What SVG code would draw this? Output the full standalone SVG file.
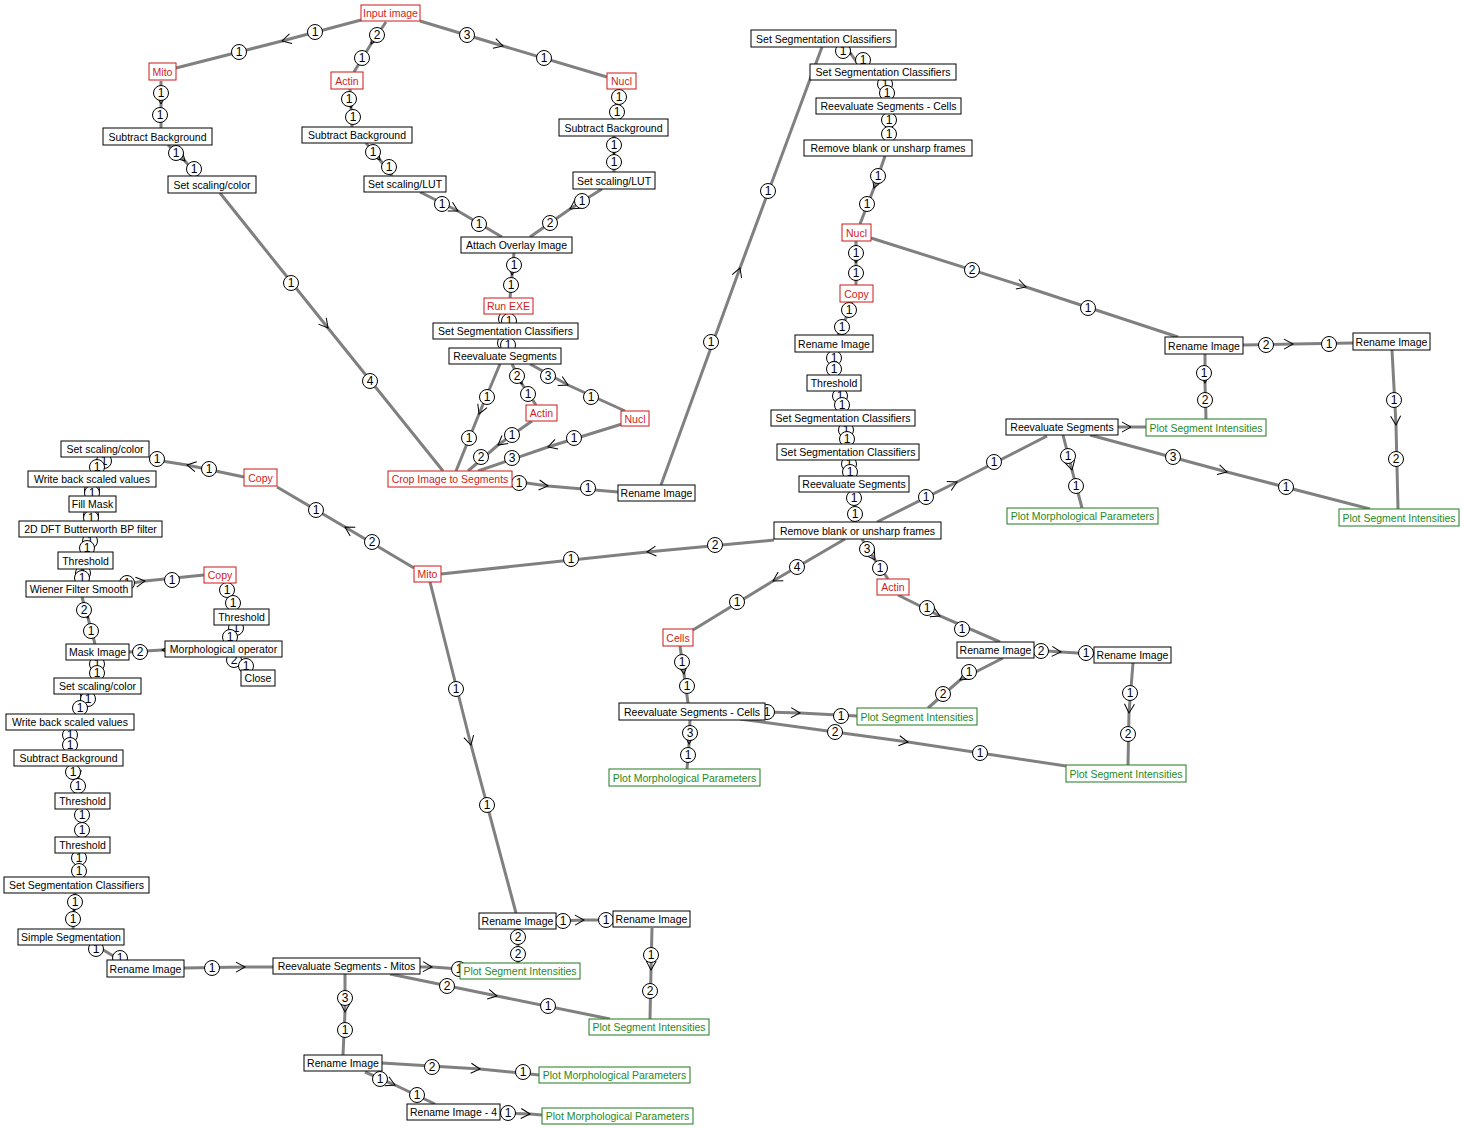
<svg xmlns="http://www.w3.org/2000/svg" width="1464" height="1129" viewBox="0 0 1464 1129">
<defs>
<marker id="a" viewBox="-11 -7 13 14" markerWidth="13" markerHeight="14" refX="0" refY="0" orient="auto" markerUnits="userSpaceOnUse"><path d="M-9,-5 L0,0 L-9,5" fill="none" stroke="#000" stroke-width="1"/></marker>
<style>
.e{fill:none;stroke:#808080;stroke-width:3;marker-mid:url(#a)}
.s{fill:none;stroke:#808080;stroke-width:3}
.p circle{fill:#fff;stroke:#000;stroke-width:1}
.p text{font-family:"Liberation Sans",Arial,sans-serif;font-size:12px;text-anchor:middle;fill:#000}
.n rect{fill:#fff;stroke:#000;stroke-width:1}
.n text{font-family:"Liberation Sans",Arial,sans-serif;font-size:10.5px;text-anchor:middle;fill:#000}
.r rect{stroke:#cc1818}.r text{fill:#d01c1c}
.g rect{stroke:#1f7a1f}.g text{fill:#1f8a1f}
</style>
</defs>
<rect width="1464" height="1129" fill="#fff"/>
<g id="connectors">
<path class="e" d="M361,20 L282,41 L176,68"/>
<path class="e" d="M386,22 L371,44 L354,72"/>
<path class="e" d="M420,21 L503,46 L607,77"/>
<path class="e" d="M161,81 L161,104 L161,128"/>
<path class="e" d="M168,145 L185,161 L198,176"/>
<path class="e" d="M350,89 L351,108 L352,127"/>
<path class="e" d="M366,143 L380,160 L392,176"/>
<path class="e" d="M619,89 L618,105 L617,119"/>
<path class="e" d="M614,136 L614,154 L614,172"/>
<path class="e" d="M420,192 L458,211 L502,237"/>
<path class="e" d="M602,189 L570,209 L530,237"/>
<path class="e" d="M514,253 L512,275 L510,298"/>
<path class="s" d="M508,314 L508,323"/>
<path class="s" d="M506,339 L506,348"/>
<path class="e" d="M500,364 L479,414 L456,471"/>
<path class="e" d="M512,364 L522,384 L536,405"/>
<path class="e" d="M530,364 L568,385 L625,411"/>
<path class="e" d="M532,421 L498,445 L468,471"/>
<path class="e" d="M622,424 L548,447 L478,471"/>
<path class="e" d="M220,193 L328,328 L443,471"/>
<path class="e" d="M512,481 L548,486 L618,492"/>
<path class="e" d="M661,485 L740,268 L822,47"/>
<path class="e" d="M843,47 L851,54 L858,64"/>
<path class="s" d="M886,80 L887,98"/>
<path class="e" d="M888,114 L889,127 L889,140"/>
<path class="e" d="M885,156 L874,188 L860,224"/>
<path class="e" d="M856,241 L856,263 L856,285"/>
<path class="e" d="M871,238 L1026,287 L1178,337"/>
<path class="e" d="M852,302 L847,316 L838,335"/>
<path class="s" d="M834,352 L834,375"/>
<path class="s" d="M838,391 L843,410"/>
<path class="s" d="M848,427 L848,444"/>
<path class="s" d="M851,461 L852,476"/>
<path class="s" d="M855,492 L855,522"/>
<path class="e" d="M877,522 L957,482 L1047,436"/>
<path class="e" d="M774,540 L647,552 L441,574"/>
<path class="e" d="M862,539 L875,560 L888,579"/>
<path class="e" d="M845,539 L773,581 L693,630"/>
<path class="e" d="M1118,427 L1131,427 L1146,427"/>
<path class="e" d="M1063,435 L1072,470 L1082,508"/>
<path class="e" d="M1090,435 L1227,472 L1370,509"/>
<path class="e" d="M1205,354 L1205,383 L1206,419"/>
<path class="e" d="M1243,345 L1293,344 L1353,343"/>
<path class="e" d="M1392,350 L1396,425 L1398,509"/>
<path class="e" d="M898,595 L940,616 L1000,642"/>
<path class="e" d="M1034,650 L1061,652 L1094,654"/>
<path class="e" d="M1003,658 L960,680 L928,708"/>
<path class="e" d="M1133,663 L1129,713 L1128,765"/>
<path class="e" d="M680,646 L684,674 L688,703"/>
<path class="e" d="M765,712 L800,713 L857,716"/>
<path class="e" d="M740,719 L908,742 L1066,766"/>
<path class="e" d="M690,719 L689,744 L687,769"/>
<path class="e" d="M414,568 L345,527 L277,487"/>
<path class="e" d="M244,477 L187,465 L149,459"/>
<path class="e" d="M430,582 L471,745 L516,913"/>
<path class="e" d="M556,921 L584,920 L613,920"/>
<path class="s" d="M518,929 L518,963"/>
<path class="e" d="M652,928 L651,970 L650,1019"/>
<path class="e" d="M420,967 L432,967 L460,969"/>
<path class="e" d="M390,974 L497,996 L610,1019"/>
<path class="e" d="M345,974 L345,1012 L343,1055"/>
<path class="e" d="M184,968 L245,967 L273,967"/>
<path class="e" d="M382,1063 L480,1069 L539,1075"/>
<path class="e" d="M365,1072 L395,1085 L435,1104"/>
<path class="e" d="M500,1113 L530,1114 L542,1115"/>
<path class="s" d="M104,457 L97,471"/>
<path class="s" d="M92,487 L92,496"/>
<path class="s" d="M92,512 L91,521"/>
<path class="s" d="M90,537 L87,552"/>
<path class="s" d="M83,569 L82,581"/>
<path class="e" d="M132,583 L145,581 L204,575"/>
<path class="e" d="M82,597 L88,618 L95,644"/>
<path class="e" d="M227,583 L230,596 L235,609"/>
<path class="s" d="M235,625 L230,641"/>
<path class="s" d="M234,657 L246,670"/>
<path class="e" d="M165,650 L162,650 L129,652"/>
<path class="s" d="M97,660 L97,678"/>
<path class="e" d="M85,694 L82,703 L78,714"/>
<path class="s" d="M70,730 L70,750"/>
<path class="e" d="M75,766 L78,780 L80,793"/>
<path class="s" d="M82,809 L82,837"/>
<path class="s" d="M80,853 L78,877"/>
<path class="e" d="M75,893 L74,911 L73,929"/>
<path class="s" d="M95,945 L120,960"/>
</g>
<g id="ports" class="p">
<circle cx="315" cy="32" r="7.5"/><text x="315" y="36">1</text>
<circle cx="239" cy="52" r="7.5"/><text x="239" y="56">1</text>
<circle cx="377" cy="35" r="7.5"/><text x="377" y="39">2</text>
<circle cx="362" cy="58" r="7.5"/><text x="362" y="62">1</text>
<circle cx="467" cy="35" r="7.5"/><text x="467" y="39">3</text>
<circle cx="544" cy="58" r="7.5"/><text x="544" y="62">1</text>
<circle cx="161" cy="93" r="7.5"/><text x="161" y="97">1</text>
<circle cx="160" cy="115" r="7.5"/><text x="160" y="119">1</text>
<circle cx="176" cy="153" r="7.5"/><text x="176" y="157">1</text>
<circle cx="194" cy="169" r="7.5"/><text x="194" y="173">1</text>
<circle cx="349" cy="99" r="7.5"/><text x="349" y="103">1</text>
<circle cx="353" cy="117" r="7.5"/><text x="353" y="121">1</text>
<circle cx="373" cy="152" r="7.5"/><text x="373" y="156">1</text>
<circle cx="389" cy="167" r="7.5"/><text x="389" y="171">1</text>
<circle cx="619" cy="97" r="7.5"/><text x="619" y="101">1</text>
<circle cx="617" cy="112" r="7.5"/><text x="617" y="116">1</text>
<circle cx="614" cy="145" r="7.5"/><text x="614" y="149">1</text>
<circle cx="614" cy="162" r="7.5"/><text x="614" y="166">1</text>
<circle cx="442" cy="204" r="7.5"/><text x="442" y="208">1</text>
<circle cx="479" cy="224" r="7.5"/><text x="479" y="228">1</text>
<circle cx="582" cy="201" r="7.5"/><text x="582" y="205">1</text>
<circle cx="550" cy="223" r="7.5"/><text x="550" y="227">2</text>
<circle cx="514" cy="265" r="7.5"/><text x="514" y="269">1</text>
<circle cx="511" cy="285" r="7.5"/><text x="511" y="289">1</text>
<circle cx="506" cy="319" r="7.5"/><text x="506" y="323">1</text>
<circle cx="509" cy="321" r="7.5"/><text x="509" y="325">1</text>
<circle cx="505" cy="343" r="7.5"/><text x="505" y="347">1</text>
<circle cx="508" cy="345" r="7.5"/><text x="508" y="349">1</text>
<circle cx="487" cy="397" r="7.5"/><text x="487" y="401">1</text>
<circle cx="469" cy="438" r="7.5"/><text x="469" y="442">1</text>
<circle cx="517" cy="376" r="7.5"/><text x="517" y="380">2</text>
<circle cx="528" cy="394" r="7.5"/><text x="528" y="398">1</text>
<circle cx="548" cy="376" r="7.5"/><text x="548" y="380">3</text>
<circle cx="591" cy="397" r="7.5"/><text x="591" y="401">1</text>
<circle cx="512" cy="435" r="7.5"/><text x="512" y="439">1</text>
<circle cx="481" cy="457" r="7.5"/><text x="481" y="461">2</text>
<circle cx="574" cy="438" r="7.5"/><text x="574" y="442">1</text>
<circle cx="512" cy="458" r="7.5"/><text x="512" y="462">3</text>
<circle cx="291" cy="283" r="7.5"/><text x="291" y="287">1</text>
<circle cx="370" cy="381" r="7.5"/><text x="370" y="385">4</text>
<circle cx="519" cy="483" r="7.5"/><text x="519" y="487">1</text>
<circle cx="588" cy="488" r="7.5"/><text x="588" y="492">1</text>
<circle cx="711" cy="342" r="7.5"/><text x="711" y="346">1</text>
<circle cx="768" cy="191" r="7.5"/><text x="768" y="195">1</text>
<circle cx="843" cy="51" r="7.5"/><text x="843" y="55">1</text>
<circle cx="863" cy="60" r="7.5"/><text x="863" y="64">1</text>
<circle cx="885" cy="84" r="7.5"/><text x="885" y="88">1</text>
<circle cx="887" cy="93" r="7.5"/><text x="887" y="97">1</text>
<circle cx="889" cy="120" r="7.5"/><text x="889" y="124">1</text>
<circle cx="889" cy="134" r="7.5"/><text x="889" y="138">1</text>
<circle cx="878" cy="176" r="7.5"/><text x="878" y="180">1</text>
<circle cx="867" cy="204" r="7.5"/><text x="867" y="208">1</text>
<circle cx="856" cy="253" r="7.5"/><text x="856" y="257">1</text>
<circle cx="856" cy="273" r="7.5"/><text x="856" y="277">1</text>
<circle cx="972" cy="270" r="7.5"/><text x="972" y="274">2</text>
<circle cx="1088" cy="308" r="7.5"/><text x="1088" y="312">1</text>
<circle cx="849" cy="310" r="7.5"/><text x="849" y="314">1</text>
<circle cx="842" cy="327" r="7.5"/><text x="842" y="331">1</text>
<circle cx="834" cy="358" r="7.5"/><text x="834" y="362">1</text>
<circle cx="834" cy="369" r="7.5"/><text x="834" y="373">1</text>
<circle cx="840" cy="396" r="7.5"/><text x="840" y="400">1</text>
<circle cx="842" cy="405" r="7.5"/><text x="842" y="409">1</text>
<circle cx="846" cy="430" r="7.5"/><text x="846" y="434">1</text>
<circle cx="847" cy="439" r="7.5"/><text x="847" y="443">1</text>
<circle cx="849" cy="464" r="7.5"/><text x="849" y="468">1</text>
<circle cx="850" cy="472" r="7.5"/><text x="850" y="476">1</text>
<circle cx="854" cy="498" r="7.5"/><text x="854" y="502">1</text>
<circle cx="855" cy="514" r="7.5"/><text x="855" y="518">1</text>
<circle cx="926" cy="497" r="7.5"/><text x="926" y="501">1</text>
<circle cx="994" cy="462" r="7.5"/><text x="994" y="466">1</text>
<circle cx="715" cy="545" r="7.5"/><text x="715" y="549">2</text>
<circle cx="571" cy="559" r="7.5"/><text x="571" y="563">1</text>
<circle cx="867" cy="549" r="7.5"/><text x="867" y="553">3</text>
<circle cx="880" cy="568" r="7.5"/><text x="880" y="572">1</text>
<circle cx="797" cy="567" r="7.5"/><text x="797" y="571">4</text>
<circle cx="737" cy="602" r="7.5"/><text x="737" y="606">1</text>
<circle cx="1068" cy="456" r="7.5"/><text x="1068" y="460">1</text>
<circle cx="1076" cy="486" r="7.5"/><text x="1076" y="490">1</text>
<circle cx="1173" cy="457" r="7.5"/><text x="1173" y="461">3</text>
<circle cx="1286" cy="487" r="7.5"/><text x="1286" y="491">1</text>
<circle cx="1204" cy="373" r="7.5"/><text x="1204" y="377">1</text>
<circle cx="1205" cy="400" r="7.5"/><text x="1205" y="404">2</text>
<circle cx="1266" cy="345" r="7.5"/><text x="1266" y="349">2</text>
<circle cx="1329" cy="344" r="7.5"/><text x="1329" y="348">1</text>
<circle cx="1394" cy="400" r="7.5"/><text x="1394" y="404">1</text>
<circle cx="1396" cy="459" r="7.5"/><text x="1396" y="463">2</text>
<circle cx="927" cy="608" r="7.5"/><text x="927" y="612">1</text>
<circle cx="962" cy="629" r="7.5"/><text x="962" y="633">1</text>
<circle cx="1041" cy="651" r="7.5"/><text x="1041" y="655">2</text>
<circle cx="1086" cy="653" r="7.5"/><text x="1086" y="657">1</text>
<circle cx="969" cy="672" r="7.5"/><text x="969" y="676">1</text>
<circle cx="943" cy="694" r="7.5"/><text x="943" y="698">2</text>
<circle cx="1130" cy="693" r="7.5"/><text x="1130" y="697">1</text>
<circle cx="1128" cy="734" r="7.5"/><text x="1128" y="738">2</text>
<circle cx="682" cy="662" r="7.5"/><text x="682" y="666">1</text>
<circle cx="687" cy="686" r="7.5"/><text x="687" y="690">1</text>
<circle cx="767" cy="712" r="7.5"/><text x="767" y="716">1</text>
<circle cx="841" cy="716" r="7.5"/><text x="841" y="720">1</text>
<circle cx="835" cy="732" r="7.5"/><text x="835" y="736">2</text>
<circle cx="980" cy="753" r="7.5"/><text x="980" y="757">1</text>
<circle cx="690" cy="733" r="7.5"/><text x="690" y="737">3</text>
<circle cx="688" cy="755" r="7.5"/><text x="688" y="759">1</text>
<circle cx="372" cy="542" r="7.5"/><text x="372" y="546">2</text>
<circle cx="316" cy="510" r="7.5"/><text x="316" y="514">1</text>
<circle cx="209" cy="469" r="7.5"/><text x="209" y="473">1</text>
<circle cx="157" cy="459" r="7.5"/><text x="157" y="463">1</text>
<circle cx="456" cy="689" r="7.5"/><text x="456" y="693">1</text>
<circle cx="487" cy="805" r="7.5"/><text x="487" y="809">1</text>
<circle cx="563" cy="921" r="7.5"/><text x="563" y="925">1</text>
<circle cx="606" cy="920" r="7.5"/><text x="606" y="924">1</text>
<circle cx="518" cy="937" r="7.5"/><text x="518" y="941">2</text>
<circle cx="518" cy="954" r="7.5"/><text x="518" y="958">2</text>
<circle cx="651" cy="955" r="7.5"/><text x="651" y="959">1</text>
<circle cx="650" cy="991" r="7.5"/><text x="650" y="995">2</text>
<circle cx="459" cy="969" r="7.5"/><text x="459" y="973">1</text>
<circle cx="447" cy="986" r="7.5"/><text x="447" y="990">2</text>
<circle cx="548" cy="1006" r="7.5"/><text x="548" y="1010">1</text>
<circle cx="345" cy="998" r="7.5"/><text x="345" y="1002">3</text>
<circle cx="345" cy="1030" r="7.5"/><text x="345" y="1034">1</text>
<circle cx="212" cy="968" r="7.5"/><text x="212" y="972">1</text>
<circle cx="432" cy="1067" r="7.5"/><text x="432" y="1071">2</text>
<circle cx="523" cy="1072" r="7.5"/><text x="523" y="1076">1</text>
<circle cx="380" cy="1079" r="7.5"/><text x="380" y="1083">1</text>
<circle cx="417" cy="1095" r="7.5"/><text x="417" y="1099">1</text>
<circle cx="508" cy="1113" r="7.5"/><text x="508" y="1117">1</text>
<circle cx="104" cy="461" r="7.5"/><text x="104" y="465">1</text>
<circle cx="97" cy="467" r="7.5"/><text x="97" y="471">1</text>
<circle cx="92" cy="490" r="7.5"/><text x="92" y="494">1</text>
<circle cx="92" cy="493" r="7.5"/><text x="92" y="497">1</text>
<circle cx="91" cy="515" r="7.5"/><text x="91" y="519">1</text>
<circle cx="91" cy="518" r="7.5"/><text x="91" y="522">1</text>
<circle cx="90" cy="541" r="7.5"/><text x="90" y="545">1</text>
<circle cx="87" cy="548" r="7.5"/><text x="87" y="552">1</text>
<circle cx="83" cy="573" r="7.5"/><text x="83" y="577">1</text>
<circle cx="82" cy="578" r="7.5"/><text x="82" y="582">1</text>
<circle cx="127" cy="583" r="7.5"/><text x="127" y="587">1</text>
<circle cx="172" cy="580" r="7.5"/><text x="172" y="584">1</text>
<circle cx="84" cy="610" r="7.5"/><text x="84" y="614">2</text>
<circle cx="91" cy="631" r="7.5"/><text x="91" y="635">1</text>
<circle cx="227" cy="590" r="7.5"/><text x="227" y="594">1</text>
<circle cx="233" cy="603" r="7.5"/><text x="233" y="607">1</text>
<circle cx="236" cy="628" r="7.5"/><text x="236" y="632">1</text>
<circle cx="230" cy="637" r="7.5"/><text x="230" y="641">1</text>
<circle cx="234" cy="660" r="7.5"/><text x="234" y="664">2</text>
<circle cx="246" cy="666" r="7.5"/><text x="246" y="670">1</text>
<circle cx="140" cy="652" r="7.5"/><text x="140" y="656">2</text>
<circle cx="97" cy="664" r="7.5"/><text x="97" y="668">1</text>
<circle cx="97" cy="673" r="7.5"/><text x="97" y="677">1</text>
<circle cx="88" cy="699" r="7.5"/><text x="88" y="703">1</text>
<circle cx="80" cy="708" r="7.5"/><text x="80" y="712">1</text>
<circle cx="70" cy="735" r="7.5"/><text x="70" y="739">1</text>
<circle cx="70" cy="745" r="7.5"/><text x="70" y="749">1</text>
<circle cx="73" cy="772" r="7.5"/><text x="73" y="776">1</text>
<circle cx="78" cy="786" r="7.5"/><text x="78" y="790">1</text>
<circle cx="82" cy="815" r="7.5"/><text x="82" y="819">1</text>
<circle cx="82" cy="830" r="7.5"/><text x="82" y="834">1</text>
<circle cx="79" cy="858" r="7.5"/><text x="79" y="862">1</text>
<circle cx="79" cy="871" r="7.5"/><text x="79" y="875">1</text>
<circle cx="75" cy="902" r="7.5"/><text x="75" y="906">1</text>
<circle cx="73" cy="919" r="7.5"/><text x="73" y="923">1</text>
<circle cx="96" cy="949" r="7.5"/><text x="96" y="953">1</text>
<circle cx="120" cy="958" r="7.5"/><text x="120" y="962">1</text>
</g>
<g id="nodes">
<g id="n_input" class="n r"><rect x="361" y="5" width="59" height="16"/><text x="390.5" y="17">Input image</text></g>
<g id="n_mito1" class="n r"><rect x="149" y="63" width="27" height="17"/><text x="162.5" y="75.5">Mito</text></g>
<g id="n_actin1" class="n r"><rect x="331" y="72" width="32" height="17"/><text x="347" y="84.5">Actin</text></g>
<g id="n_nucl1" class="n r"><rect x="607" y="73" width="29" height="16"/><text x="621.5" y="85">Nucl</text></g>
<g id="n_sb1" class="n"><rect x="103" y="128" width="109" height="17"/><text x="157.5" y="140.5">Subtract Background</text></g>
<g id="n_ssc1" class="n"><rect x="168" y="176" width="88" height="17"/><text x="212" y="188.5">Set scaling/color</text></g>
<g id="n_sb2" class="n"><rect x="302" y="127" width="110" height="16"/><text x="357" y="139">Subtract Background</text></g>
<g id="n_lut1" class="n"><rect x="364" y="176" width="82" height="16"/><text x="405" y="188">Set scaling/LUT</text></g>
<g id="n_sb3" class="n"><rect x="559" y="119" width="109" height="17"/><text x="613.5" y="131.5">Subtract Background</text></g>
<g id="n_lut2" class="n"><rect x="573" y="172" width="82" height="17"/><text x="614" y="184.5">Set scaling/LUT</text></g>
<g id="n_attach" class="n"><rect x="461" y="237" width="111" height="16"/><text x="516.5" y="249">Attach Overlay Image</text></g>
<g id="n_runexe" class="n r"><rect x="484" y="298" width="49" height="16"/><text x="508.5" y="310">Run EXE</text></g>
<g id="n_segc1" class="n"><rect x="433" y="323" width="145" height="16"/><text x="505.5" y="335">Set Segmentation Classifiers</text></g>
<g id="n_reev1" class="n"><rect x="449" y="348" width="112" height="16"/><text x="505" y="360">Reevaluate Segments</text></g>
<g id="n_actin2" class="n r"><rect x="526" y="405" width="31" height="16"/><text x="541.5" y="417">Actin</text></g>
<g id="n_nucl2" class="n r"><rect x="621" y="411" width="28" height="15"/><text x="635" y="422.5">Nucl</text></g>
<g id="n_crop" class="n r"><rect x="388" y="471" width="124" height="16"/><text x="450" y="483">Crop Image to Segments</text></g>
<g id="n_ren1" class="n"><rect x="618" y="485" width="77" height="16"/><text x="656.5" y="497">Rename Image</text></g>
<g id="n_segc2" class="n"><rect x="751" y="30" width="145" height="17"/><text x="823.5" y="42.5">Set Segmentation Classifiers</text></g>
<g id="n_segc3" class="n"><rect x="810" y="64" width="146" height="16"/><text x="883" y="76">Set Segmentation Classifiers</text></g>
<g id="n_reevc1" class="n"><rect x="816" y="98" width="145" height="16"/><text x="888.5" y="110">Reevaluate Segments - Cells</text></g>
<g id="n_rmb1" class="n"><rect x="804" y="140" width="168" height="16"/><text x="888" y="152">Remove blank or unsharp frames</text></g>
<g id="n_nucl3" class="n r"><rect x="842" y="224" width="29" height="17"/><text x="856.5" y="236.5">Nucl</text></g>
<g id="n_copy1" class="n r"><rect x="840" y="285" width="33" height="17"/><text x="856.5" y="297.5">Copy</text></g>
<g id="n_ren2" class="n"><rect x="795" y="335" width="78" height="17"/><text x="834" y="347.5">Rename Image</text></g>
<g id="n_thr1" class="n"><rect x="807" y="375" width="54" height="16"/><text x="834" y="387">Threshold</text></g>
<g id="n_segc4" class="n"><rect x="771" y="410" width="144" height="16"/><text x="843" y="422">Set Segmentation Classifiers</text></g>
<g id="n_segc5" class="n"><rect x="777" y="444" width="142" height="16"/><text x="848" y="456">Set Segmentation Classifiers</text></g>
<g id="n_reev2" class="n"><rect x="799" y="476" width="110" height="16"/><text x="854" y="488">Reevaluate Segments</text></g>
<g id="n_rmb2" class="n"><rect x="774" y="522" width="167" height="17"/><text x="857.5" y="534.5">Remove blank or unsharp frames</text></g>
<g id="n_ren3" class="n"><rect x="1165" y="337" width="78" height="17"/><text x="1204" y="349.5">Rename Image</text></g>
<g id="n_ren4" class="n"><rect x="1353" y="333" width="77" height="17"/><text x="1391.5" y="345.5">Rename Image</text></g>
<g id="n_psi1" class="n g"><rect x="1146" y="419" width="120" height="17"/><text x="1206" y="431.5">Plot Segment Intensities</text></g>
<g id="n_psi2" class="n g"><rect x="1339" y="509" width="120" height="17"/><text x="1399" y="521.5">Plot Segment Intensities</text></g>
<g id="n_reev3" class="n"><rect x="1006" y="419" width="112" height="16"/><text x="1062" y="431">Reevaluate Segments</text></g>
<g id="n_pmp1" class="n g"><rect x="1007" y="508" width="151" height="16"/><text x="1082.5" y="520">Plot Morphological Parameters</text></g>
<g id="n_copy2" class="n r"><rect x="244" y="469" width="33" height="17"/><text x="260.5" y="481.5">Copy</text></g>
<g id="n_mito2" class="n r"><rect x="414" y="566" width="27" height="16"/><text x="427.5" y="578">Mito</text></g>
<g id="n_cells" class="n r"><rect x="663" y="629" width="30" height="17"/><text x="678" y="641.5">Cells</text></g>
<g id="n_actin3" class="n r"><rect x="877" y="579" width="32" height="16"/><text x="893" y="591">Actin</text></g>
<g id="n_ren5" class="n"><rect x="957" y="642" width="77" height="16"/><text x="995.5" y="654">Rename Image</text></g>
<g id="n_ren6" class="n"><rect x="1094" y="647" width="77" height="16"/><text x="1132.5" y="659">Rename Image</text></g>
<g id="n_reevc2" class="n"><rect x="619" y="703" width="146" height="17"/><text x="692" y="715.5">Reevaluate Segments - Cells</text></g>
<g id="n_psi3" class="n g"><rect x="857" y="708" width="120" height="17"/><text x="917" y="720.5">Plot Segment Intensities</text></g>
<g id="n_pmp2" class="n g"><rect x="609" y="769" width="151" height="17"/><text x="684.5" y="781.5">Plot Morphological Parameters</text></g>
<g id="n_psi4" class="n g"><rect x="1066" y="765" width="120" height="17"/><text x="1126" y="777.5">Plot Segment Intensities</text></g>
<g id="n_ssc2" class="n"><rect x="61" y="441" width="88" height="16"/><text x="105" y="453">Set scaling/color</text></g>
<g id="n_wb1" class="n"><rect x="28" y="471" width="128" height="16"/><text x="92" y="483">Write back scaled values</text></g>
<g id="n_fill" class="n"><rect x="69" y="496" width="47" height="16"/><text x="92.5" y="508">Fill Mask</text></g>
<g id="n_dft" class="n"><rect x="19" y="521" width="143" height="16"/><text x="90.5" y="533">2D DFT Butterworth BP filter</text></g>
<g id="n_thr2" class="n"><rect x="58" y="552" width="55" height="17"/><text x="85.5" y="564.5">Threshold</text></g>
<g id="n_wien" class="n"><rect x="26" y="581" width="106" height="16"/><text x="79" y="593">Wiener Filter Smooth</text></g>
<g id="n_copy3" class="n r"><rect x="204" y="567" width="32" height="16"/><text x="220" y="579">Copy</text></g>
<g id="n_thr3" class="n"><rect x="214" y="609" width="55" height="16"/><text x="241.5" y="621">Threshold</text></g>
<g id="n_mask" class="n"><rect x="66" y="644" width="63" height="16"/><text x="97.5" y="656">Mask Image</text></g>
<g id="n_morph" class="n"><rect x="165" y="641" width="117" height="16"/><text x="223.5" y="653">Morphological operator</text></g>
<g id="n_close" class="n"><rect x="241" y="670" width="34" height="16"/><text x="258" y="682">Close</text></g>
<g id="n_ssc3" class="n"><rect x="54" y="678" width="87" height="16"/><text x="97.5" y="690">Set scaling/color</text></g>
<g id="n_wb2" class="n"><rect x="6" y="714" width="128" height="16"/><text x="70" y="726">Write back scaled values</text></g>
<g id="n_sb4" class="n"><rect x="14" y="750" width="109" height="16"/><text x="68.5" y="762">Subtract Background</text></g>
<g id="n_thr4" class="n"><rect x="55" y="793" width="55" height="16"/><text x="82.5" y="805">Threshold</text></g>
<g id="n_thr5" class="n"><rect x="55" y="837" width="55" height="16"/><text x="82.5" y="849">Threshold</text></g>
<g id="n_segc6" class="n"><rect x="4" y="877" width="145" height="16"/><text x="76.5" y="889">Set Segmentation Classifiers</text></g>
<g id="n_simple" class="n"><rect x="18" y="929" width="106" height="16"/><text x="71" y="941">Simple Segmentation</text></g>
<g id="n_ren7" class="n"><rect x="107" y="960" width="77" height="17"/><text x="145.5" y="972.5">Rename Image</text></g>
<g id="n_reevm" class="n"><rect x="273" y="958" width="147" height="16"/><text x="346.5" y="970">Reevaluate Segments - Mitos</text></g>
<g id="n_psi5" class="n g"><rect x="460" y="963" width="120" height="16"/><text x="520" y="975">Plot Segment Intensities</text></g>
<g id="n_ren8" class="n"><rect x="479" y="913" width="77" height="16"/><text x="517.5" y="925">Rename Image</text></g>
<g id="n_ren9" class="n"><rect x="613" y="911" width="77" height="16"/><text x="651.5" y="923">Rename Image</text></g>
<g id="n_psi6" class="n g"><rect x="589" y="1019" width="120" height="16"/><text x="649" y="1031">Plot Segment Intensities</text></g>
<g id="n_ren10" class="n"><rect x="304" y="1055" width="78" height="16"/><text x="343" y="1067">Rename Image</text></g>
<g id="n_pmp3" class="n g"><rect x="539" y="1067" width="151" height="16"/><text x="614.5" y="1079">Plot Morphological Parameters</text></g>
<g id="n_ren11" class="n"><rect x="407" y="1104" width="93" height="16"/><text x="453.5" y="1116">Rename Image - 4</text></g>
<g id="n_pmp4" class="n g"><rect x="542" y="1108" width="151" height="16"/><text x="617.5" y="1120">Plot Morphological Parameters</text></g>
</g>
</svg>
